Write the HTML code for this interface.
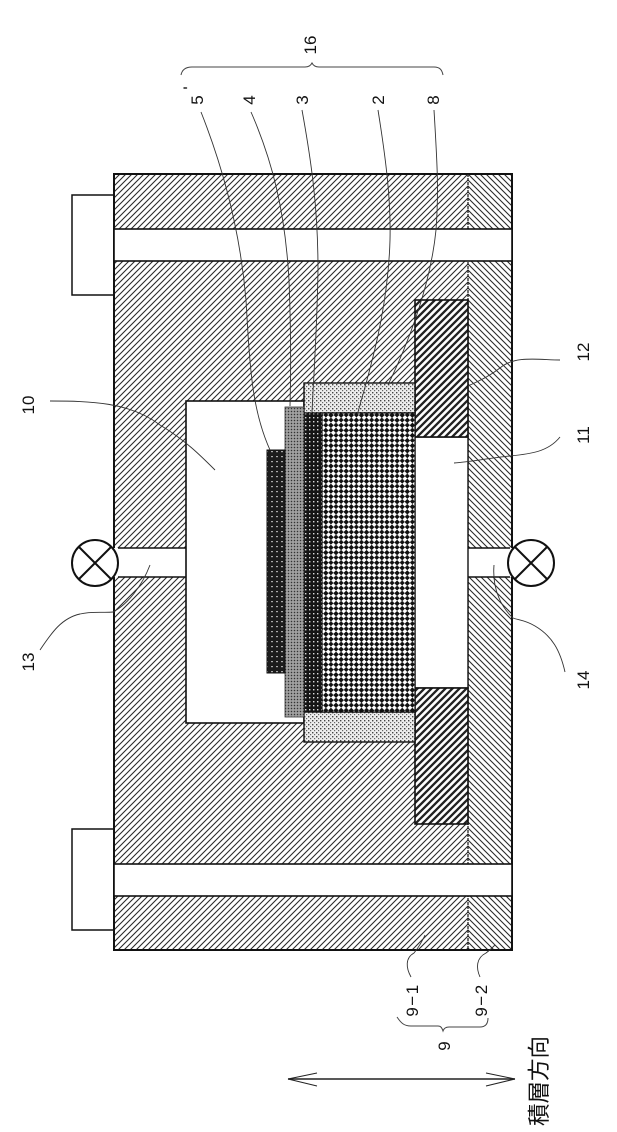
<!DOCTYPE html>
<html>
<head>
<meta charset="utf-8">
<style>
html,body{margin:0;padding:0;background:#fff;}
svg{display:block;}
text{font-family:"Liberation Sans","Noto Sans CJK JP",sans-serif;fill:#111;}
</style>
</head>
<body>
<svg width="617" height="1132" viewBox="0 0 617 1132" xmlns="http://www.w3.org/2000/svg">
<defs>
<pattern id="h1" width="6" height="6" patternUnits="userSpaceOnUse">
<path d="M-1 1L1 -1M0 6L6 0M5 7L7 5" stroke="#2a2a2a" stroke-width="1.1"/>
</pattern>
<pattern id="h2" width="6" height="6" patternUnits="userSpaceOnUse">
<path d="M-1 5L1 7M0 0L6 6M5 -1L7 1" stroke="#2a2a2a" stroke-width="1.1"/>
</pattern>
<pattern id="seal" width="7" height="7" patternUnits="userSpaceOnUse">
<rect width="7" height="7" fill="#fff"/>
<path d="M-2 2L2 -2M0 7L7 0M5 9L9 5" stroke="#222" stroke-width="2.3"/>
</pattern>
<pattern id="chk" width="7.2" height="7.2" patternUnits="userSpaceOnUse" patternTransform="rotate(45)">
<rect width="7.2" height="7.2" fill="#fff"/>
<rect width="3.9" height="3.9" fill="#111"/>
<rect x="3.6" y="3.6" width="3.9" height="3.9" fill="#111"/>
</pattern>
<pattern id="l3" width="4" height="4" patternUnits="userSpaceOnUse">
<rect width="4" height="4" fill="#151515"/>
<rect x="1" y="1" width="1.4" height="1.4" fill="#ddd"/>
</pattern>
<pattern id="l4" width="3" height="3" patternUnits="userSpaceOnUse">
<rect width="3" height="3" fill="#8c8c8c"/>
<rect width="1" height="1" fill="#333"/>
<rect x="1.5" y="1.5" width="1" height="1" fill="#ddd"/>
</pattern>
<pattern id="l5" width="5" height="5" patternUnits="userSpaceOnUse">
<rect width="5" height="5" fill="#1c1c1c"/>
<rect x="1" y="1" width="2" height="1.2" fill="#aaa"/>
</pattern>
<pattern id="l8" width="4" height="4" patternUnits="userSpaceOnUse">
<rect width="4" height="4" fill="#eee"/>
<rect x="0" y="0" width="1.4" height="1.4" fill="#444"/>
<rect x="2" y="2" width="1.2" height="1.2" fill="#666"/>
</pattern>
</defs>

<rect width="617" height="1132" fill="#fff"/>

<!-- tabs -->
<rect x="72" y="195" width="42" height="100" fill="#fff" stroke="#111" stroke-width="1.5"/>
<rect x="72" y="829" width="42" height="101" fill="#fff" stroke="#111" stroke-width="1.5"/>

<!-- housing -->
<rect x="114" y="174" width="354" height="776" fill="url(#h1)"/>
<rect x="468" y="174" width="44" height="776" fill="url(#h2)"/>
<rect x="114" y="174" width="398" height="776" fill="none" stroke="#111" stroke-width="2"/>
<line x1="468" y1="174" x2="468" y2="950" stroke="#222" stroke-width="1.3" stroke-dasharray="3 1"/>

<!-- bands -->
<rect x="114" y="229" width="398" height="32" fill="#fff" stroke="#111" stroke-width="1.6"/>
<rect x="114" y="864" width="398" height="32" fill="#fff" stroke="#111" stroke-width="1.6"/>

<!-- ports -->
<rect x="114" y="548" width="72" height="29" fill="#fff"/>
<path d="M118 548H186M118 577H186" stroke="#111" stroke-width="1.5"/>
<rect x="468" y="548" width="44" height="29" fill="#fff"/>
<path d="M468 548H510M468 577H510" stroke="#111" stroke-width="1.5"/>

<!-- cavity 10 -->
<rect x="186" y="401" width="118" height="322" fill="#fff" stroke="#111" stroke-width="1.6"/>
<!-- cavity 11 -->
<rect x="415" y="437" width="53" height="251" fill="#fff" stroke="#111" stroke-width="1.4"/>

<!-- seals 12 -->
<rect x="415" y="300" width="53" height="137" fill="url(#seal)" stroke="#111" stroke-width="1.6"/>
<rect x="415" y="688" width="53" height="136" fill="url(#seal)" stroke="#111" stroke-width="1.6"/>

<!-- 8 -->
<rect x="304" y="383" width="111" height="30" fill="url(#l8)" stroke="#111" stroke-width="1.4"/>
<rect x="304" y="712" width="111" height="30" fill="url(#l8)" stroke="#111" stroke-width="1.4"/>

<!-- 2 -->
<rect x="322" y="413" width="93" height="299" fill="url(#chk)" stroke="#111" stroke-width="1.2"/>
<!-- 3 -->
<rect x="304" y="413" width="18" height="299" fill="url(#l3)" stroke="#111" stroke-width="1"/>
<!-- 4 -->
<rect x="285" y="407" width="19" height="310" fill="url(#l4)" stroke="#333" stroke-width="0.8"/>
<!-- 5 -->
<rect x="267" y="450" width="18" height="223" fill="url(#l5)" stroke="#111" stroke-width="1"/>

<!-- valves -->
<g fill="#fff" stroke="#111" stroke-width="2">
<circle cx="95" cy="563" r="23"/>
<path d="M79 547L111 579M79 579L111 547"/>
<circle cx="531" cy="563" r="23"/>
<path d="M515 547L547 579M515 579L547 547"/>
</g>

<!-- leaders -->
<g fill="none" stroke="#333" stroke-width="0.9">
<path d="M201 112C222 165 240 230 246 300C250 370 252 410 270 450"/>
<path d="M251 112C272 160 285 210 289 280C291 330 291 370 290 406"/>
<path d="M302 110C312 165 318 210 318 270C317 330 314 370 312 412"/>
<path d="M378 110C386 160 391 200 390 240C388 310 370 370 358 412"/>
<path d="M434 110C437 160 439 190 436 230C430 290 405 350 388 385"/>
<path d="M50 401C90 401 130 402 160 425C185 440 200 455 215 470"/>
<path d="M40 650C52 632 62 618 80 614C92 611 104 613 113 612C128 604 142 586 150 565"/>
<path d="M560 360C540 360 515 355 500 368C487 378 476 382 468 386"/>
<path d="M560 437C548 452 530 454 510 456C490 458 470 462 454 463"/>
<path d="M565 672C560 650 552 636 535 626C525 620 518 620 513 618C502 608 492 590 494 565"/>
<path d="M411 977C406 968 405 958 414 953C418 948 422 942 425 935"/>
<path d="M480 977C476 968 476 958 486 953C490 950 493 947 495 945"/>
</g>

<!-- braces -->
<g fill="none" stroke="#444" stroke-width="1">
<path d="M181 75C182 70 185 67 192 67H305C309 67 311 65 312 63C313 65 315 67 319 67H434C440 67 442 70 443 75"/>
<path d="M397 1017C401 1023 404 1026 411 1026H438C441 1026 442 1028 443 1031C444 1028 446 1027 449 1027H480C485 1027 488 1024 488 1018"/>
</g>

<!-- double arrow -->
<g fill="none" stroke="#222" stroke-width="1">
<path d="M288 1079H515" stroke-width="1.4"/>
<path d="M288 1079L317 1073M288 1079L317 1086M515 1079L486 1073M515 1079L486 1086"/>
</g>

<!-- labels -->
<g font-size="17" text-anchor="middle">
<text transform="translate(316,45) rotate(-90)">16</text>
<text transform="translate(203,100) rotate(-90)">5</text>
<text transform="translate(255,100) rotate(-90)">4</text>
<text transform="translate(308,100) rotate(-90)">3</text>
<text transform="translate(384,100) rotate(-90)">2</text>
<text transform="translate(439,100) rotate(-90)">8</text>
<text transform="translate(195,88) rotate(-90)" font-size="17">'</text>
<text transform="translate(34,405) rotate(-90)">10</text>
<text transform="translate(34,662) rotate(-90)">13</text>
<text transform="translate(589,352) rotate(-90)">12</text>
<text transform="translate(589,435) rotate(-90)">11</text>
<text transform="translate(589,680) rotate(-90)">14</text>
<text transform="translate(418,1000) rotate(-90)" letter-spacing="1.5">9&#8722;1</text>
<text transform="translate(487,1000) rotate(-90)" letter-spacing="1.5">9&#8722;2</text>
<text transform="translate(450,1046) rotate(-90)">9</text>
</g>
<text transform="translate(547,1126) rotate(-90)" font-size="22.5">積層方向</text>
</svg>
</body>
</html>
